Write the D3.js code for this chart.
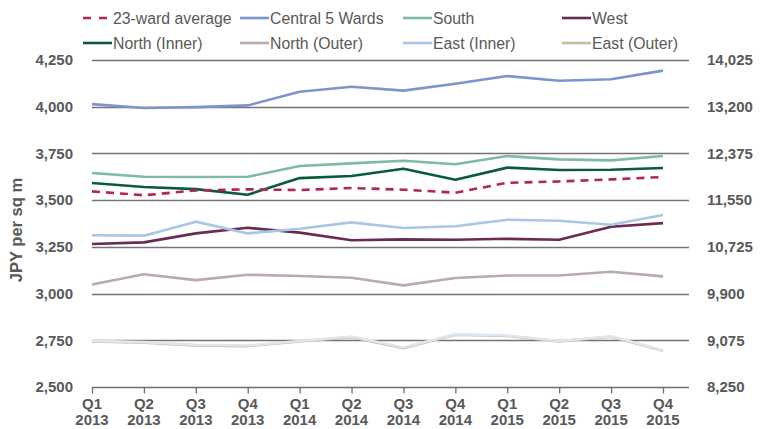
<!DOCTYPE html>
<html><head><meta charset="utf-8">
<script src="https://cdn.jsdelivr.net/npm/d3@7"></script>
<style>
html,body{margin:0;padding:0;background:#fff;}
svg{display:block;font-family:"Liberation Sans",Arial,Helvetica,sans-serif;}
</style></head>
<body>
<svg id="chart" width="763" height="429"></svg>
<script>
const quarters = ["Q1","Q2","Q3","Q4","Q1","Q2","Q3","Q4","Q1","Q2","Q3","Q4"];
const years = ["2013","2013","2013","2013","2014","2014","2014","2014","2015","2015","2015","2015"];
const categories = quarters.map((q,i)=>q+" "+years[i]);

const leftTicks = [2500,2750,3000,3250,3500,3750,4000,4250];
const rightTicks = [8250,9075,9900,10725,11550,12375,13200,14025];

const avg23 = [3547,3526,3552,3558,3554,3565,3556,3540,3593,3600,3611,3624];
const central5 = [4014,3993,3998,4007,4080,4107,4086,4123,4164,4139,4147,4193];
const south = [3645,3625,3624,3625,3683,3697,3711,3692,3736,3718,3713,3736];
const west = [3265,3274,3322,3352,3326,3285,3290,3288,3293,3288,3358,3377];
const northInner = [3592,3570,3559,3529,3618,3629,3668,3609,3674,3661,3663,3672];
const northOuter = [3049,3103,3072,3101,3094,3085,3044,3083,3097,3097,3117,3092];
const eastInner = [3312,3310,3385,3322,3347,3381,3351,3360,3395,3390,3368,3420];
const eastOuter = [2744,2737,2723,2719,2744,2767,2708,2780,2773,2744,2769,2694];
const eastOuterPale = [2747,2740,2726,2722,2746,2770,2711,2783,2776,2746,2772,2697];

const series = [
  {name:"23-ward average", values:avg23, color:"#b3245e", dash:"8,6", legend:true},
  {name:"Central 5 Wards", values:central5, color:"#7b96cf", legend:true},
  {name:"South", values:south, color:"#7dbaa8", legend:true},
  {name:"West", values:west, color:"#6a2b50", legend:true},
  {name:"North (Inner)", values:northInner, color:"#0b5a3b", legend:true},
  {name:"North (Outer)", values:northOuter, color:"#b9aaaf", legend:true},
  {name:"East (Inner)", values:eastInner, color:"#a8c6e8", legend:true},
  {name:"East (Outer)", values:eastOuter, color:"#c8bd9c", legend:true},
  {name:"", values:eastOuterPale, color:"#dde7f3", legend:false}
];

const svg = d3.select("#chart");
const plotLeft = 92, plotRight = 689, plotTop = 60, plotBottom = 387;
const lastX = 663;

const x = d3.scalePoint().domain(categories).range([plotLeft, lastX]);
const y = d3.scaleLinear().domain([2500,4250]).range([plotBottom, plotTop]);
const y2 = d3.scaleLinear().domain([8250,14025]).range([plotBottom, plotTop]);

const textColor = "#595959";
const fontFam = '"Liberation Sans",Arial,sans-serif';

// gridlines
svg.append("g").selectAll("line").data(leftTicks.slice(1)).join("line")
  .attr("x1", plotLeft).attr("x2", plotRight)
  .attr("y1", d=>Math.round(y(d))+0.5).attr("y2", d=>Math.round(y(d))+0.5)
  .attr("stroke", "#747474").attr("stroke-width", 1.3);

// left axis labels
const la = svg.append("g").attr("transform", `translate(${plotLeft},0)`)
  .call(d3.axisLeft(y).tickValues(leftTicks).tickFormat(d3.format(",")).tickSize(0).tickPadding(19));
la.select(".domain").remove();
la.selectAll("text").attr("fill", textColor).attr("font-size", "15px").attr("font-weight", "bold")
  .attr("font-family", fontFam);

// right axis labels
const ra = svg.append("g").attr("transform", `translate(${plotRight},0)`)
  .call(d3.axisRight(y2).tickValues(rightTicks).tickFormat(d3.format(",")).tickSize(0).tickPadding(18));
ra.select(".domain").remove();
ra.selectAll("text").attr("fill", textColor).attr("font-size", "15px").attr("font-weight", "bold")
  .attr("font-family", fontFam);

// bottom axis
const xa = svg.append("g").attr("transform", `translate(0,${Math.round(plotBottom)+0.5})`)
  .call(d3.axisBottom(x).tickSize(6).tickFormat(""));
xa.select(".domain").remove();
xa.selectAll(".tick line").attr("stroke", "#6e6e6e").attr("stroke-width", 1.3);
svg.append("line").attr("x1", plotLeft).attr("x2", plotRight)
  .attr("y1", Math.round(plotBottom)+0.5).attr("y2", Math.round(plotBottom)+0.5)
  .attr("stroke", "#6e6e6e").attr("stroke-width", 1.3);

const xl = svg.append("g");
categories.forEach((c,i)=>{
  const t = xl.append("text").attr("x", x(c)).attr("text-anchor","middle")
    .attr("fill", textColor).attr("font-size","15px").attr("font-weight","bold");
  t.append("tspan").attr("x", x(c)).attr("y", 409).text(quarters[i]);
  t.append("tspan").attr("x", x(c)).attr("y", 425).text(years[i]);
});

// y title
svg.append("text").attr("transform", "translate(22,230) rotate(-90)")
  .attr("text-anchor","middle").attr("fill", textColor)
  .attr("font-size","16.5px").attr("font-weight","bold").text("JPY per sq m");

// lines
const line = d3.line().x((d,i)=>x(categories[i])).y(d=>y(d));
const drawOrder = [5,7,8,3,6,4,0,2,1];
const lg = svg.append("g");
drawOrder.forEach(k=>{
  const s = series[k];
  lg.append("path").datum(s.values).attr("d", line)
    .attr("fill","none").attr("stroke", s.color)
    .attr("stroke-width", 2.6)
    .attr("stroke-dasharray", s.dash || null)
    .attr("stroke-linejoin","round");
});

// legend
const legendCols = [83, 240, 403, 562];
const legendRows = [18, 43];
const legendItems = series.filter(s=>s.legend);
const leg = svg.append("g");
legendItems.forEach((s,i)=>{
  const cx = legendCols[i%4], cy = legendRows[Math.floor(i/4)];
  leg.append("line").attr("x1", cx).attr("x2", cx + (s.dash ? 24 : 29))
    .attr("y1", cy).attr("y2", cy).attr("stroke", s.color).attr("stroke-width", 2.6)
    .attr("stroke-dasharray", s.dash ? "8,8" : null);
  leg.append("text").attr("x", cx + 30).attr("y", cy).attr("dy","0.35em")
    .attr("fill", textColor).attr("font-size","15.8px").text(s.name);
});
</script>
</body></html>
